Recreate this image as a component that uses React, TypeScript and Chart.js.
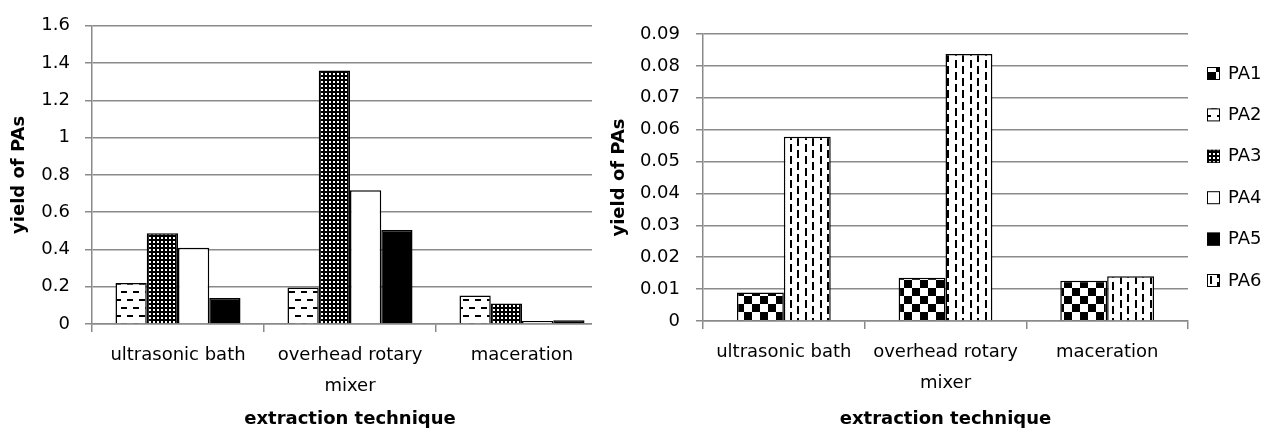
import React, { useEffect, useRef } from 'react';
import { Chart, registerables } from 'chart.js';

Chart.register(...registerables);

// ---------- data ----------
const categories: (string | string[])[] = ['ultrasonic bath', ['overhead rotary', 'mixer'], 'maceration'];
const seriesNames = ['PA1', 'PA2', 'PA3', 'PA4', 'PA5', 'PA6'];

// left chart (PA2..PA5)
const pa2Values = [0.22, 0.196, 0.153];
const pa3Values = [0.487, 1.36, 0.11];
const pa4Values = [0.409, 0.718, 0.016];
const pa5Values = [0.14, 0.505, 0.02];

// right chart (PA1, PA6)
const pa1Values = [0.0089, 0.0136, 0.0126];
const pa6Values = [0.0578, 0.0837, 0.014];

const leftAxisMax = 1.6;
const leftAxisStep = 0.2;
const rightAxisMax = 0.09;
const rightAxisStep = 0.01;

const xTitle = 'extraction technique';
const yTitle = 'yield of PAs';

// ---------- styles ----------
const FONT = 'DejaVu Sans';
const GRID = '#8a8a8a';
const TXT = '#000';
const H = 433;

function tile(w: number, h: number, draw: (c: CanvasRenderingContext2D) => void): CanvasPattern | string {
  const cv = document.createElement('canvas');
  cv.width = w;
  cv.height = h;
  const c = cv.getContext('2d');
  if (!c) return '#888';
  draw(c);
  return c.createPattern(cv, 'repeat') || '#888';
}

function makePatterns(): Record<string, CanvasPattern | string> {
  return {
    PA1: tile(16, 16, (c) => {
      c.fillStyle = '#fff';
      c.fillRect(0, 0, 16, 16);
      c.fillStyle = '#000';
      c.fillRect(0, 0, 8, 8);
      c.fillRect(8, 8, 8, 8);
    }),
    PA2: tile(12, 16, (c) => {
      c.fillStyle = '#fff';
      c.fillRect(0, 0, 12, 16);
      c.fillStyle = '#000';
      c.fillRect(1, 3, 6, 2);
      c.fillRect(7, 11, 5, 2);
      c.fillRect(0, 11, 1, 2);
    }),
    PA3: tile(4, 4, (c) => {
      c.fillStyle = '#000';
      c.fillRect(0, 0, 4, 4);
      c.fillStyle = '#fff';
      c.fillRect(1, 1, 2, 2);
    }),
    PA4: '#ffffff',
    PA5: '#000000',
    PA6: tile(15, 12, (c) => {
      c.fillStyle = '#fff';
      c.fillRect(0, 0, 15, 12);
      c.fillStyle = '#000';
      c.fillRect(3, 0, 2, 8);
      c.fillRect(10, 6, 2, 6);
      c.fillRect(10, 0, 2, 2);
    }),
  };
}

const fmtTick = (v: number | string) => String(Number(Number(v).toFixed(3)));

function xScale(axisHeight: number, padTitleBottom: number) {
  return {
    grid: { offset: true, drawOnChartArea: false, drawTicks: true, tickLength: 8, color: GRID, lineWidth: 1.5 },
    border: { color: GRID, width: 1.5 },
    ticks: {
      color: TXT,
      font: { family: FONT, size: 18, lineHeight: 1.72 },
      padding: 7.5,
      maxRotation: 0,
      autoSkip: false,
    },
    title: {
      display: true,
      text: xTitle,
      color: TXT,
      font: { family: FONT, size: 18, weight: 'bold' as const },
      padding: { top: 0, bottom: padTitleBottom },
    },
    afterFit: (s: any) => {
      s.height = axisHeight;
    },
  };
}

function yScale(max: number, step: number, axisWidth: number, tickPad: number, titlePad: number) {
  return {
    min: 0,
    max,
    ticks: { stepSize: step, color: TXT, font: { family: FONT, size: 18 }, padding: tickPad, callback: fmtTick },
    grid: { color: GRID, lineWidth: 1.5, tickLength: 7 },
    border: { color: GRID, width: 1.5 },
    title: {
      display: true,
      text: yTitle,
      color: TXT,
      font: { family: FONT, size: 18, weight: 'bold' as const },
      padding: { top: titlePad, bottom: 0 },
    },
    afterFit: (s: any) => {
      s.width = axisWidth;
    },
  };
}

export default function App() {
  const leftRef = useRef<HTMLCanvasElement>(null);
  const rightRef = useRef<HTMLCanvasElement>(null);

  useEffect(() => {
    const pats = makePatterns();
    const bar = (name: string, data: number[]) => ({
      label: name,
      data,
      backgroundColor: pats[name],
      borderColor: '#000',
      borderWidth: 1.5,
    });

    const left = new Chart(leftRef.current as HTMLCanvasElement, {
      type: 'bar',
      data: {
        labels: categories,
        datasets: [
          bar('PA2', pa2Values),
          bar('PA3', pa3Values),
          bar('PA4', pa4Values),
          bar('PA5', pa5Values),
        ],
      },
      options: {
        responsive: false,
        animation: false,
        layout: { padding: { top: 24, left: 0, right: 2, bottom: 0 } },
        datasets: { bar: { categoryPercentage: 0.727, barPercentage: 1 } },
        plugins: { legend: { display: false }, tooltip: { enabled: false } },
        scales: {
          x: xScale(H - 324, 3),
          y: yScale(leftAxisMax, leftAxisStep, 92, 15, 9),
        },
      } as any,
    });

    const legendPlugin = {
      id: 'sideLegend',
      afterDraw(chart: any) {
        const ctx = chart.ctx as CanvasRenderingContext2D;
        ctx.save();
        ctx.font = `18px "${FONT}"`;
        ctx.textBaseline = 'middle';
        ctx.textAlign = 'left';
        seriesNames.forEach((name, i) => {
          const y = 73 + i * 41.4;
          const x = 615;
          ctx.fillStyle = pats[name] as any;
          ctx.fillRect(x, y - 6, 13, 13);
          ctx.strokeStyle = '#000';
          ctx.lineWidth = 1;
          ctx.strokeRect(x + 0.5, y - 5.5, 12, 12);
          ctx.fillStyle = TXT;
          ctx.fillText(name, 636, y + 1);
        });
        ctx.restore();
      },
    };

    const right = new Chart(rightRef.current as HTMLCanvasElement, {
      type: 'bar',
      data: {
        labels: categories,
        datasets: [bar('PA1', pa1Values), bar('PA6', pa6Values)],
      },
      options: {
        responsive: false,
        animation: false,
        layout: { padding: { top: 34, left: 0, right: 81, bottom: 0 } },
        datasets: { bar: { categoryPercentage: 0.58, barPercentage: 1 } },
        plugins: { legend: { display: false }, tooltip: { enabled: false } },
        scales: {
          x: xScale(H - 321, 3),
          y: yScale(rightAxisMax, rightAxisStep, 111, 16, 17),
        },
      } as any,
      plugins: [legendPlugin],
    });

    return () => {
      left.destroy();
      right.destroy();
    };
  }, []);

  return (
    <div style={{ position: 'fixed', left: 0, top: 0, width: 1269, height: H, background: '#fff', overflow: 'hidden' }}>
      <canvas
        ref={leftRef}
        width={610}
        height={H}
        style={{ position: 'absolute', left: 0, top: 0, width: 610, height: H, background: '#fff' }}
      />
      <canvas
        ref={rightRef}
        width={677}
        height={H}
        style={{ position: 'absolute', left: 592, top: 0, width: 677, height: H, background: '#fff', zIndex: 1 }}
      />
    </div>
  );
}
